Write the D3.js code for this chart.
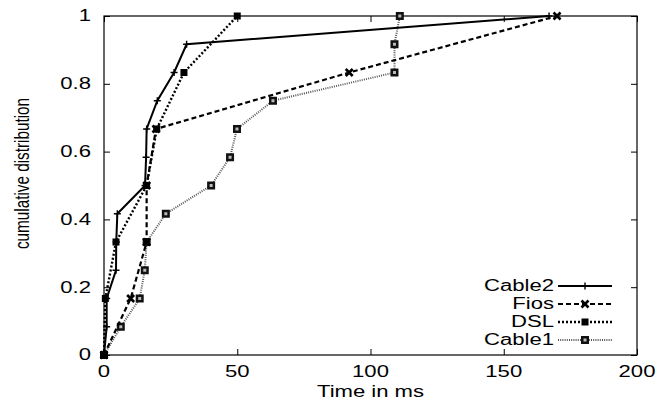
<!DOCTYPE html>
<html>
<head>
<meta charset="utf-8">
<script src="https://cdn.jsdelivr.net/npm/d3@7"></script>
<style>
  body { margin: 0; background: #fff; }
  svg text { font-family: "Liberation Sans", Arial, sans-serif; font-size: 16px; fill: #000; }
</style>
</head>
<body>
<svg id="chart" width="670" height="413"></svg>
<script>
// data (x in ms, y = cumulative fraction)
const seriesNames = ["Cable2", "Fios", "DSL", "Cable1"];
const cable2Ms  = [0, 1, 1, 4.5, 4.6, 5, 15.4, 15.8, 16, 20, 26.3, 31, 167];
const cable2Cdf = [0, 0.0833, 0.1667, 0.25, 0.3333, 0.4167, 0.5, 0.5833, 0.6667, 0.75, 0.8333, 0.9167, 1];
const fiosMs    = [0, 10, 16, 16, 19.5, 92, 170];
const fiosCdf   = [0, 0.1667, 0.3333, 0.5, 0.6667, 0.8333, 1];
const dslMs     = [0, 0.5, 4.5, 16, 19.8, 30, 50];
const dslCdf    = [0, 0.1667, 0.3333, 0.5, 0.6667, 0.8333, 1];
const cable1Ms  = [0, 6.3, 13.4, 15.3, 16, 23.2, 40.2, 47.3, 49.9, 63.4, 109, 109, 111];
const cable1Cdf = [0, 0.0833, 0.1667, 0.25, 0.3333, 0.4167, 0.5, 0.5833, 0.6667, 0.75, 0.8333, 0.9167, 1];
const xTicks = [0, 50, 100, 150, 200];
const yTicks = [0, 0.2, 0.4, 0.6, 0.8, 1];

let margin = {top: 16, right: 33, bottom: 58, left: 104};
let widthChart = 670 - margin.left - margin.right;
let heightChart = 413 - margin.top - margin.bottom;
const sx = 1.38; // the figure is stretched sideways

let svg = d3.select("#chart");
let chart = svg.append("g").attr("transform", "translate(" + margin.left + "," + margin.top + ")");

let x = d3.scaleLinear().domain([0, 200]).range([0, widthChart]);
let y = d3.scaleLinear().domain([0, 1]).range([heightChart, 0]);

function label(g, str, px, py, anchor) {
  return g.append("text").text(str)
    .attr("text-anchor", anchor)
    .attr("dominant-baseline", "central")
    .attr("transform", "translate(" + px + "," + py + ") scale(" + sx + ",1)");
}

/* axes: inward ticks, mirrored */
chart.append("g").attr("transform", "translate(0," + heightChart + ")")
  .call(d3.axisBottom(x).tickValues(xTicks).tickSize(-6).tickFormat(""));
chart.append("g")
  .call(d3.axisTop(x).tickValues(xTicks).tickSize(-6).tickFormat(""));
chart.append("g")
  .call(d3.axisLeft(y).tickValues(yTicks).tickSize(-6).tickFormat(""));
chart.append("g").attr("transform", "translate(" + widthChart + ",0)")
  .call(d3.axisRight(y).tickValues(yTicks).tickSize(-6).tickFormat(""));
chart.selectAll(".domain").remove();
chart.selectAll(".tick line").attr("stroke", "#000").attr("stroke-width", 1);

chart.append("rect")
  .attr("width", widthChart).attr("height", heightChart)
  .attr("fill", "none").attr("stroke", "#000").attr("stroke-width", 1.2);

xTicks.forEach(t => label(chart, t, x(t), heightChart + 17, "middle"));
yTicks.forEach(t => label(chart, t, -13, y(t), "end"));

label(chart, "Time in ms", widthChart / 2, heightChart + 37, "middle");
chart.append("text").text("cumulative distribution")
  .style("font-size", "15.3px")
  .attr("text-anchor", "middle")
  .attr("dominant-baseline", "central")
  .attr("transform", "translate(" + (-82) + "," + (heightChart / 2 - 12) + ") scale(" + sx + ",1) rotate(-90)");

/* markers */
function mPlus(g, cx, cy) {
  g.append("path").attr("d", "M" + (cx - 3.5) + "," + cy + "h7M" + cx + "," + (cy - 3.5) + "v7")
    .attr("stroke", "#000").attr("stroke-width", 1.4).attr("fill", "none");
}
function mCross(g, cx, cy) {
  g.append("path").attr("d", "M" + (cx - 3.5) + "," + (cy - 3.5) + "l7,7M" + (cx - 3.5) + "," + (cy + 3.5) + "l7,-7")
    .attr("stroke", "#000").attr("stroke-width", 2.6).attr("fill", "none");
}
function mSquare(g, cx, cy) {
  g.append("rect").attr("x", cx - 3.5).attr("y", cy - 3.5).attr("width", 7).attr("height", 7).attr("fill", "#000");
}
function mBox(g, cx, cy) {
  g.append("rect").attr("x", cx - 4).attr("y", cy - 4).attr("width", 8).attr("height", 8).attr("fill", "#111");
  g.append("rect").attr("x", cx - 1.5).attr("y", cy - 1.5).attr("width", 3).attr("height", 3).attr("fill", "#bbb");
}

const series = [
  {name: seriesNames[0], ms: cable2Ms, cdf: cable2Cdf, width: 2, dash: null, color: "#000", marker: mPlus},
  {name: seriesNames[1], ms: fiosMs, cdf: fiosCdf, width: 2.2, dash: "5,3", color: "#000", marker: mCross},
  {name: seriesNames[2], ms: dslMs, cdf: dslCdf, width: 2.4, dash: "2,2", color: "#000", marker: mSquare},
  {name: seriesNames[3], ms: cable1Ms, cdf: cable1Cdf, width: 2, dash: "1,1.2", color: "#555", marker: mBox}
];

let line = d3.line().x(d => x(d[0])).y(d => y(d[1]));

/* drawing, last series first so Cable2 stays on top */
series.slice().reverse().forEach(s => {
  let pts = s.ms.map((v, i) => [v, s.cdf[i]]);
  chart.append("path").datum(pts)
    .attr("d", line)
    .attr("fill", "none")
    .attr("stroke", s.color)
    .attr("stroke-width", s.width)
    .attr("stroke-dasharray", s.dash);
  let mg = chart.append("g");
  pts.forEach(p => s.marker(mg, x(p[0]), y(p[1])));
});

/* legend */
let legend = chart.append("g");
series.forEach((s, i) => {
  let ly = 270 + i * 18;
  label(legend, s.name, 450, ly, "end");
  legend.append("line")
    .attr("x1", 454).attr("x2", 508).attr("y1", ly).attr("y2", ly)
    .attr("stroke", s.color).attr("stroke-width", s.width)
    .attr("stroke-dasharray", s.dash);
  s.marker(legend, 481, ly);
});
</script>
</body>
</html>
